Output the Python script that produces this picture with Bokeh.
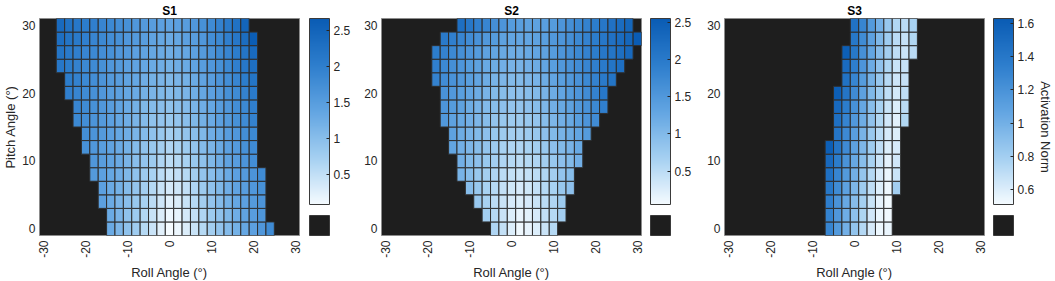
import math
from bokeh.plotting import figure
from bokeh.models import (ColumnDataSource, LinearColorMapper, ColorBar, FixedTicker,
                          LinearAxis, CustomJSTickFormatter)
from bokeh.layouts import row
from bokeh.embed import file_html
from bokeh.resources import INLINE

# ---------------- data ----------------
PITCH = [0, 2, 4, 6, 8, 10, 12, 14, 16, 18, 20, 22, 24, 26, 28, 30]
ROLL = [-30, -28, -26, -24, -22, -20, -18, -16, -14, -12, -10, -8, -6, -4, -2, 0,
        2, 4, 6, 8, 10, 12, 14, 16, 18, 20, 22, 24, 26, 28, 30]
X_TICKS = [-30, -20, -10, 0, 10, 20, 30]
Y_TICKS = [0, 10, 20, 30]

# first (left-most) roll of the valid cells in each pitch row, pitch 0 -> 30
S1_FIRST = [-14, -14, -16, -16, -18, -18, -20, -20, -22, -22, -24, -24, -26, -26, -26, -26]
S1_VALUES = [
    [1.3, 1.12, 0.95, 0.78, 0.6, 0.43, 0.25, 0.08, 0.15, 0.3, 0.45, 0.6, 0.75, 0.9, 1.05, 1.2, 1.35, 1.45, 1.6, 1.8],
    [1.3, 1.15, 0.95, 0.8, 0.62, 0.45, 0.3, 0.15, 0.2, 0.35, 0.5, 0.65, 0.8, 0.95, 1.1, 1.25, 1.4, 1.5, 1.62],
    [1.45, 1.3, 1.15, 1.0, 0.85, 0.7, 0.55, 0.4, 0.25, 0.3, 0.45, 0.6, 0.75, 0.9, 1.05, 1.2, 1.35, 1.45, 1.55, 1.65],
    [1.45, 1.3, 1.2, 1.05, 0.9, 0.75, 0.6, 0.45, 0.35, 0.4, 0.5, 0.65, 0.8, 0.95, 1.1, 1.25, 1.4, 1.5, 1.6, 1.7],
    [1.55, 1.45, 1.35, 1.25, 1.1, 0.95, 0.8, 0.7, 0.55, 0.45, 0.5, 0.6, 0.75, 0.9, 1.0, 1.15, 1.3, 1.45, 1.55, 1.65, 1.8],
    [1.6, 1.5, 1.4, 1.3, 1.15, 1.0, 0.9, 0.8, 0.65, 0.55, 0.6, 0.7, 0.85, 0.95, 1.1, 1.25, 1.4, 1.5, 1.65, 1.75],
    [1.7, 1.6, 1.5, 1.4, 1.3, 1.2, 1.05, 0.95, 0.85, 0.75, 0.65, 0.7, 0.8, 0.9, 1.05, 1.15, 1.3, 1.45, 1.55, 1.7, 1.8],
    [1.75, 1.65, 1.55, 1.45, 1.35, 1.25, 1.15, 1.05, 0.95, 0.85, 0.75, 0.8, 0.9, 1.0, 1.1, 1.25, 1.35, 1.5, 1.6, 1.75, 1.85],
    [1.85, 1.75, 1.65, 1.55, 1.45, 1.35, 1.25, 1.15, 1.05, 0.95, 0.9, 0.85, 0.9, 1.0, 1.1, 1.2, 1.3, 1.45, 1.55, 1.7, 1.8, 1.95],
    [1.9, 1.8, 1.7, 1.6, 1.5, 1.4, 1.3, 1.2, 1.1, 1.05, 1.0, 0.95, 1.0, 1.05, 1.15, 1.25, 1.35, 1.5, 1.6, 1.75, 1.85, 2.0],
    [2.0, 1.9, 1.8, 1.7, 1.6, 1.5, 1.45, 1.35, 1.3, 1.2, 1.15, 1.1, 1.05, 1.1, 1.15, 1.25, 1.35, 1.45, 1.55, 1.7, 1.8, 1.95, 2.1],
    [2.05, 1.95, 1.85, 1.75, 1.65, 1.55, 1.5, 1.4, 1.35, 1.25, 1.2, 1.15, 1.1, 1.15, 1.2, 1.3, 1.4, 1.5, 1.65, 1.75, 1.9, 2.05, 2.2],
    [2.15, 2.05, 1.95, 1.85, 1.8, 1.7, 1.6, 1.55, 1.45, 1.4, 1.35, 1.3, 1.25, 1.2, 1.25, 1.3, 1.4, 1.5, 1.6, 1.7, 1.85, 2.0, 2.15, 2.3],
    [2.2, 2.1, 2.0, 1.9, 1.85, 1.75, 1.7, 1.6, 1.55, 1.45, 1.4, 1.35, 1.3, 1.25, 1.3, 1.35, 1.45, 1.55, 1.65, 1.8, 1.9, 2.05, 2.2, 2.4],
    [2.3, 2.2, 2.1, 2.0, 1.9, 1.85, 1.75, 1.7, 1.6, 1.55, 1.5, 1.4, 1.35, 1.3, 1.35, 1.45, 1.5, 1.6, 1.75, 1.85, 2.0, 2.15, 2.35, 2.65],
    [2.4, 2.25, 2.15, 2.05, 2.0, 1.9, 1.85, 1.75, 1.7, 1.6, 1.55, 1.5, 1.45, 1.4, 1.45, 1.5, 1.6, 1.7, 1.8, 1.95, 2.1, 2.25, 2.5],
]

S2_FIRST = [-4, -6, -8, -10, -12, -12, -14, -14, -16, -16, -16, -18, -18, -18, -16, -12]
S2_VALUES = [
    [0.6, 0.45, 0.25, 0.1, 0.15, 0.25, 0.4, 0.55],
    [0.7, 0.55, 0.4, 0.25, 0.15, 0.2, 0.3, 0.45, 0.55, 0.7],
    [0.8, 0.65, 0.5, 0.4, 0.3, 0.25, 0.3, 0.4, 0.5, 0.6, 0.75],
    [0.95, 0.8, 0.65, 0.55, 0.45, 0.35, 0.3, 0.35, 0.45, 0.55, 0.65, 0.8, 0.9],
    [1.1, 0.95, 0.8, 0.7, 0.6, 0.5, 0.45, 0.4, 0.45, 0.5, 0.6, 0.7, 0.85, 0.95],
    [1.15, 1.0, 0.9, 0.8, 0.7, 0.6, 0.55, 0.5, 0.55, 0.6, 0.7, 0.8, 0.9, 1.0, 1.15],
    [1.3, 1.15, 1.05, 0.95, 0.85, 0.75, 0.65, 0.6, 0.6, 0.65, 0.7, 0.8, 0.9, 1.0, 1.1, 1.25],
    [1.35, 1.2, 1.1, 1.0, 0.9, 0.8, 0.75, 0.7, 0.7, 0.75, 0.8, 0.9, 1.0, 1.1, 1.2, 1.3, 1.45],
    [1.5, 1.35, 1.25, 1.15, 1.05, 0.95, 0.85, 0.8, 0.75, 0.75, 0.8, 0.85, 0.95, 1.05, 1.15, 1.25, 1.4, 1.55, 1.7],
    [1.55, 1.45, 1.35, 1.2, 1.1, 1.0, 0.95, 0.9, 0.85, 0.85, 0.9, 0.95, 1.05, 1.15, 1.25, 1.35, 1.5, 1.6, 1.75, 1.9],
    [1.6, 1.5, 1.4, 1.3, 1.2, 1.1, 1.0, 0.95, 0.9, 0.9, 0.95, 1.0, 1.1, 1.2, 1.3, 1.45, 1.55, 1.7, 1.85, 2.05],
    [1.85, 1.7, 1.6, 1.5, 1.4, 1.3, 1.2, 1.1, 1.05, 1.0, 1.0, 1.05, 1.1, 1.2, 1.3, 1.4, 1.5, 1.6, 1.75, 1.85, 2.0, 2.1],
    [1.9, 1.75, 1.65, 1.55, 1.45, 1.35, 1.25, 1.2, 1.15, 1.1, 1.1, 1.15, 1.2, 1.3, 1.4, 1.5, 1.6, 1.7, 1.8, 1.9, 2.0, 2.1, 2.2],
    [1.95, 1.85, 1.75, 1.65, 1.55, 1.45, 1.35, 1.3, 1.25, 1.2, 1.2, 1.25, 1.3, 1.35, 1.45, 1.55, 1.65, 1.75, 1.85, 1.95, 2.05, 2.1, 2.2, 2.3],
    [2.0, 1.9, 1.8, 1.7, 1.6, 1.5, 1.45, 1.35, 1.3, 1.3, 1.3, 1.35, 1.4, 1.5, 1.55, 1.65, 1.75, 1.85, 1.95, 2.05, 2.15, 2.25, 2.35, 2.55],
    [2.2, 2.05, 1.9, 1.8, 1.65, 1.55, 1.45, 1.4, 1.35, 1.35, 1.4, 1.45, 1.55, 1.65, 1.75, 1.85, 1.95, 2.05, 2.15, 2.25, 2.35],
]

S3_FIRST = [-6, -6, -6, -6, -6, -6, -6, -4, -4, -4, -4, -2, -2, -2, 0, 0]
S3_VALUES = [
    [1.3, 1.15, 1.0, 0.87, 0.74, 0.62, 0.54, 0.55],
    [1.32, 1.17, 1.02, 0.89, 0.76, 0.64, 0.55, 0.53],
    [1.35, 1.2, 1.05, 0.92, 0.79, 0.67, 0.57, 0.52],
    [1.4, 1.25, 1.1, 0.96, 0.82, 0.7, 0.6, 0.54, 0.8],
    [1.46, 1.3, 1.15, 1.0, 0.86, 0.74, 0.62, 0.55, 0.66],
    [1.52, 1.36, 1.2, 1.05, 0.91, 0.78, 0.66, 0.57, 0.64],
    [1.6, 1.42, 1.26, 1.1, 0.96, 0.82, 0.7, 0.6, 0.62],
    [1.42, 1.27, 1.12, 0.98, 0.84, 0.72, 0.62, 0.6],
    [1.46, 1.31, 1.16, 1.02, 0.88, 0.75, 0.64, 0.58, 0.75],
    [1.52, 1.36, 1.21, 1.06, 0.91, 0.78, 0.67, 0.6, 0.72],
    [1.6, 1.42, 1.26, 1.1, 0.95, 0.82, 0.7, 0.63, 0.7],
    [1.45, 1.3, 1.14, 0.99, 0.85, 0.73, 0.65, 0.68],
    [1.5, 1.35, 1.18, 1.03, 0.88, 0.76, 0.67, 0.68],
    [1.6, 1.4, 1.22, 1.07, 0.92, 0.8, 0.7, 0.66, 0.72],
    [1.4, 1.25, 1.1, 0.95, 0.82, 0.72, 0.68, 0.75],
    [1.45, 1.3, 1.15, 1.0, 0.85, 0.75, 0.72, 0.78],
]

TITLES = ["S1", "S2", "S3"]
CLIMS = [(0.08, 2.67), (0.05, 2.55), (0.51, 1.63)]
CB_TICKS = [[0.5, 1, 1.5, 2, 2.5], [0.5, 1, 1.5, 2, 2.5], [0.6, 0.8, 1, 1.2, 1.4, 1.6]]

# ---------------- style ----------------
FONT = "Liberation Sans"
TXT = "#262626"
NAN_COLOR = "#1e1e1e"


def make_palette(anchors, n=256):
    out = []
    for i in range(n):
        t = i / (n - 1)
        for (t0, c0), (t1, c1) in zip(anchors[:-1], anchors[1:]):
            if t0 <= t <= t1:
                f = (t - t0) / (t1 - t0)
                rgb = [round(a + (b - a) * f) for a, b in zip(c0, c1)]
                out.append("#%02x%02x%02x" % tuple(rgb))
                break
    return out


PALETTE = make_palette([(0.0, (245, 251, 255)), (0.25, (165, 208, 241)),
                        (0.5, (98, 165, 226)), (0.75, (46, 126, 205)), (1.0, (10, 92, 180))])

FMT = CustomJSTickFormatter(code="return tick.toString()")


def style_axis(ax):
    ax.axis_line_color = None
    ax.major_tick_line_color = None
    ax.minor_tick_line_color = None
    ax.major_tick_in = 0
    ax.major_tick_out = 0
    ax.minor_tick_in = 0
    ax.minor_tick_out = 0
    ax.formatter = FMT
    ax.major_label_text_font = FONT
    ax.major_label_text_font_size = "12px"
    ax.major_label_text_color = TXT
    ax.axis_label_text_font = FONT
    ax.axis_label_text_font_size = "13px"
    ax.axis_label_text_font_style = "normal"
    ax.axis_label_text_color = TXT


def make_panel(title, first, values, clim, cticks, left, right, cb_x, ylabel=None, cb_title=None):
    xs, ys, vs = [], [], []
    for pitch, start, vals in zip(PITCH, first, values):
        i0 = ROLL.index(start)
        for k, v in enumerate(vals):
            xs.append(ROLL[i0 + k])
            ys.append(pitch)
            vs.append(v)
    src = ColumnDataSource(dict(roll=xs, pitch=ys, val=vs))
    mapper = LinearColorMapper(palette=PALETTE, low=clim[0], high=clim[1])

    p = figure(frame_width=260, frame_height=217, x_range=(-31, 31), y_range=(-1, 31),
               output_backend="svg", toolbar_location=None,
               min_border_left=left, min_border_right=right,
               min_border_top=0, min_border_bottom=40)
    p.title.text = title
    p.title.align = "center"
    p.title.text_font = FONT
    p.title.text_font_size = "12px"
    p.title.text_font_style = "bold"
    p.title.text_color = "#000000"
    p.title.standoff = 2
    p.background_fill_color = NAN_COLOR
    p.border_fill_color = "white"
    p.outline_line_color = "#8c8c8c"
    p.xgrid.visible = False
    p.ygrid.visible = False

    p.rect(x="roll", y="pitch", width=2, height=2, source=src,
           fill_color={"field": "val", "transform": mapper},
           line_color="#2e2e2e", line_width=1)

    p.xaxis.ticker = FixedTicker(ticks=X_TICKS)
    p.yaxis.ticker = FixedTicker(ticks=Y_TICKS)
    p.xaxis.major_label_orientation = math.pi / 2
    style_axis(p.xaxis[0])
    style_axis(p.yaxis[0])
    p.xaxis.major_label_standoff = 5
    p.xaxis.axis_label_standoff = 4
    p.yaxis.major_label_standoff = 4
    p.yaxis.axis_label_standoff = 1
    p.xaxis.axis_label = "Roll Angle (°)"
    if ylabel:
        p.yaxis.axis_label = ylabel

    cb = ColorBar(color_mapper=mapper, ticker=FixedTicker(ticks=cticks), formatter=FMT,
                  width=20, height=186, location=(cb_x, 31), padding=0, margin=0,
                  major_label_text_font=FONT, major_label_text_font_size="12px",
                  major_label_text_color=TXT, major_tick_line_color=TXT,
                  major_tick_in=3, major_tick_out=0, minor_tick_line_color=None,
                  bar_line_color="#3a3a3a", border_line_color=None,
                  background_fill_alpha=0, label_standoff=4)
    p.add_layout(cb, "center")

    nan_map = LinearColorMapper(palette=[NAN_COLOR, NAN_COLOR], low=0, high=1)
    nb = ColorBar(color_mapper=nan_map, ticker=FixedTicker(ticks=[]),
                  width=20, height=20, location=(cb_x, 0), padding=0, margin=0,
                  major_tick_line_color=None, minor_tick_line_color=None,
                  major_label_text_font_size="0px",
                  bar_line_color="#3a3a3a", border_line_color=None,
                  background_fill_alpha=0)
    p.add_layout(nb, "center")

    if cb_title:
        rax = LinearAxis(ticker=FixedTicker(ticks=[]), axis_label=cb_title)
        style_axis(rax)
        rax.major_label_text_font_size = "0px"
        rax.major_label_standoff = 0
        rax.axis_label_standoff = 53
        p.add_layout(rax, "right")
    return p


p1 = make_panel(TITLES[0], S1_FIRST, S1_VALUES, CLIMS[0], CB_TICKS[0], 39, 53, 270,
                ylabel="Pitch Angle (°)")
p2 = make_panel(TITLES[1], S2_FIRST, S2_VALUES, CLIMS[1], CB_TICKS[1], 29, 53, 269)
p3 = make_panel(TITLES[2], S3_FIRST, S3_VALUES, CLIMS[2], CB_TICKS[2], 30, 70, 269,
                cb_title="Activation Norm")

layout = row(p1, p2, p3)
open("out.html", "w").write(file_html(layout, INLINE))
